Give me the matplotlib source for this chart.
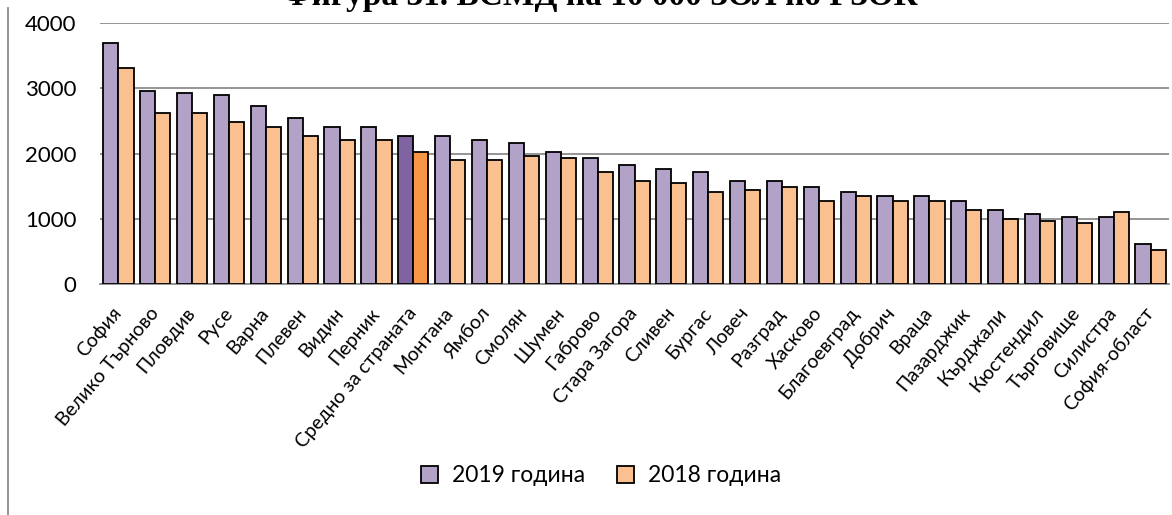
import matplotlib
matplotlib.use("Agg")
import matplotlib.pyplot as plt
from matplotlib.patches import Patch
from matplotlib.lines import Line2D
import numpy as np

categories = ["София", "Велико Търново", "Пловдив", "Русе", "Варна", "Плевен", "Видин",
              "Перник", "Средно за страната", "Монтана", "Ямбол", "Смолян", "Шумен",
              "Габрово", "Стара Загора", "Сливен", "Бургас", "Ловеч", "Разград", "Хасково",
              "Благоевград", "Добрич", "Враца", "Пазарджик", "Кърджали", "Кюстендил",
              "Търговище", "Силистра", "София-област"]
values_2019 = [3693, 2966, 2930, 2894, 2725, 2551, 2412, 2412, 2274, 2274, 2203, 2167, 2028,
               1931, 1829, 1757, 1721, 1583, 1583, 1480, 1409, 1342, 1342, 1270, 1132, 1065,
               1030, 1030, 615]
values_2018 = [3309, 2617, 2617, 2479, 2412, 2274, 2208, 2203, 2028, 1895, 1895, 1967, 1931,
               1721, 1583, 1552, 1409, 1444, 1480, 1270, 1342, 1270, 1270, 1132, 994, 958,
               927, 1101, 512]
series_labels = ["2019 година", "2018 година"]
highlight = "Средно за страната"
yticks = [0, 1000, 2000, 3000, 4000]
title = "Фигура 31. ВСМД на 10 000 ЗОЛ по РЗОК"

C19, C18 = "#B3A2C7", "#FAC090"
C19H, C18H = "#8064A2", "#F79646"
GRID = "#8C8C8C"
FONT = ["Lato", "DejaVu Sans"]

W, H = 1172, 515
fig = plt.figure(figsize=(W / 100, H / 100), dpi=100)
ax = fig.add_axes([100 / W, 1 - 283.7 / H, 1069 / W, (283.7 - 23.3) / H])

x = np.arange(len(categories))
bw = 0.41
c19 = [C19H if c == highlight else C19 for c in categories]
c18 = [C18H if c == highlight else C18 for c in categories]
ax.bar(x - bw / 2, values_2019, bw, color=c19, edgecolor="black", linewidth=1.3, zorder=3)
ax.bar(x + bw / 2, values_2018, bw, color=c18, edgecolor="black", linewidth=1.3, zorder=3)

ax.set_xlim(-0.5, len(categories) - 0.5)
ax.set_ylim(0, 4000)
ax.set_yticks(yticks)
ax.set_yticklabels([str(v) for v in yticks], family=FONT, fontsize=16)
ax.yaxis.grid(True, color=GRID, linewidth=1.3, zorder=0)
ax.tick_params(axis="y", length=0, pad=17)
ax.tick_params(axis="x", length=0, pad=19)
for s in ["top", "right", "left"]:
    ax.spines[s].set_visible(False)
ax.spines["bottom"].set_color(GRID)
ax.spines["bottom"].set_linewidth(1.3)

ax.set_xticks(x)
ax.set_xticklabels(categories, rotation=50, ha="right", va="center",
                   rotation_mode="anchor", family=FONT, fontsize=14)

fig.text(600 / W, 1 - 4.5 / H, title, ha="center", va="baseline",
         family=["Liberation Serif", "DejaVu Serif"], fontweight="bold", fontsize=24)

fig.add_artist(Line2D([7.5 / W, 7.5 / W], [0, 1 - 8 / H], transform=fig.transFigure,
                      color="#8C8C8C", linewidth=1.3))

handles = [Patch(facecolor=C19, edgecolor="black", linewidth=1.3),
           Patch(facecolor=C18, edgecolor="black", linewidth=1.3)]
fig.legend(handles, series_labels, loc="center", bbox_to_anchor=(601 / W, 1 - 476 / H),
           ncol=2, frameon=False, handlelength=0.75, handleheight=0.7, handletextpad=0.6,
           columnspacing=1.4, prop={"family": FONT, "size": 16.5})

fig.savefig("out.png", dpi=100)
